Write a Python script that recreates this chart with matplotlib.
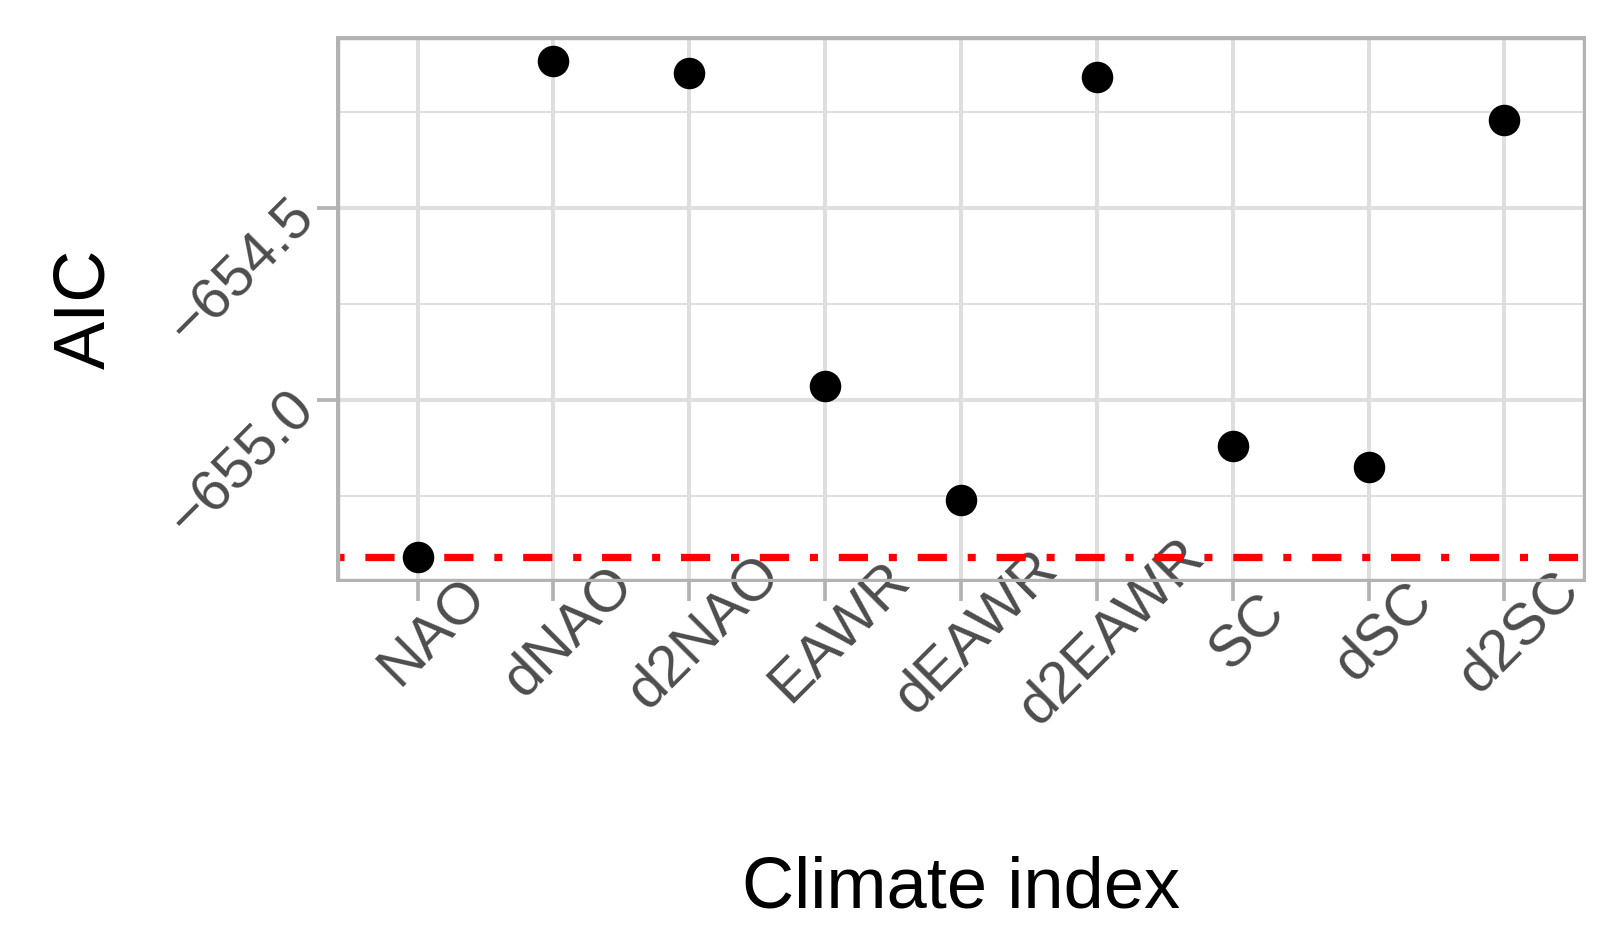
import matplotlib
matplotlib.use('Agg')
import matplotlib.pyplot as plt
from matplotlib.transforms import ScaledTranslation

plt.rcParams['font.family'] = ['Liberation Sans', 'DejaVu Sans']

# данные
indices = ['NAO', 'dNAO', 'd2NAO', 'EAWR', 'dEAWR', 'd2EAWR', 'SC', 'dSC', 'd2SC']
aic = [-655.408, -654.117, -654.149, -654.962, -655.260, -654.159, -655.120, -655.175, -654.270]
ytick_vals = [-655.0, -654.5]
ytick_labels = ['\u2212655.0', '\u2212654.5']
yminor_vals = [-655.25, -654.75, -654.25]

W, H = 1618, 951
fig = plt.figure(figsize=(W / 100, H / 100), dpi=100)
# положение панели в пикселях: слева 336, справа 1586, сверху 36, снизу 581.7
ax = fig.add_axes([336 / W, 1 - 581.7 / H, 1250 / W, 545.7 / H])

x = list(range(len(indices)))
ax.plot(x, aic, 'o', color='black', ms=22.7, mew=0, zorder=4)
ax.axhline(min(aic), color='red', lw=5.26, linestyle=(0, (1.1, 2.85, 4, 2.85)), zorder=3)

ax.set_xlim(-0.6, len(indices) - 1 + 0.6)
ax.margins(y=0.05)

ax.set_xticks(x, labels=indices)
ax.set_yticks(ytick_vals, labels=ytick_labels)
ax.set_yticks(yminor_vals, minor=True)

ax.grid(which='major', color='#DEDEDE', lw=2.8)
ax.grid(which='minor', axis='y', color='#DEDEDE', lw=1.4)
ax.set_axisbelow(True)

ax.tick_params(which='major', length=13.7, width=2.66, color='#B3B3B3',
               labelcolor='#4D4D4D', labelsize=42)
ax.tick_params(which='minor', length=0)
ax.tick_params(axis='x', pad=22.5)
ax.tick_params(axis='y', pad=8)

for lab in ax.get_xticklabels():
    lab.set_rotation(45)
    lab.set_ha('center')
    lab.set_va('center')
    lab.set_rotation_mode('anchor')
    lab.set_transform(lab.get_transform() + ScaledTranslation(15 / 100, 0, fig.dpi_scale_trans))
for lab in ax.get_yticklabels():
    lab.set_rotation(45)
    lab.set_ha('right')
    lab.set_va('center')
    lab.set_rotation_mode('anchor')

# рамка как в ggplot: половина линии обрезана панелью
for s in ax.spines.values():
    s.set_color('#B3B3B3')
    s.set_linewidth(5.33)
    s.set_zorder(5)
    s.set_clip_path(ax.patch)

ax.set_xlabel('Climate index', fontsize=52, color='black', va='baseline')
ax.xaxis.set_label_coords(0.5, (44 - 369.3) / 545.7)
ax.set_ylabel('AIC', fontsize=52, color='black', va='baseline')
ax.yaxis.set_label_coords(-(336 - 104) / 1250, 0.5)

fig.savefig('out.png', dpi=100, facecolor='white')
